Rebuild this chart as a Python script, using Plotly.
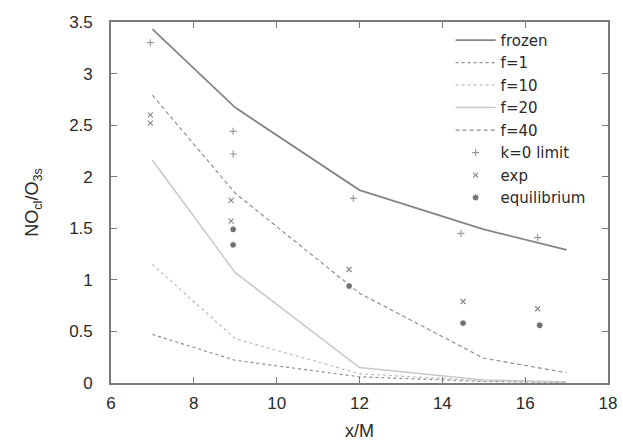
import plotly.graph_objects as go

# model curves
x_model = [7, 9, 12, 15, 17]
frozen = [3.43, 2.67, 1.87, 1.49, 1.29]
f1 = [0.47, 0.22, 0.06, 0.015, 0.005]
f10 = [1.15, 0.43, 0.09, 0.02, 0.01]
f20 = [2.16, 1.07, 0.15, 0.03, 0.01]
f40 = [2.79, 1.84, 0.87, 0.24, 0.10]

# points
x_k0 = [6.95, 8.95, 8.95, 11.85, 14.45, 16.3]
k0 = [3.30, 2.44, 2.22, 1.79, 1.45, 1.41]
x_exp = [6.95, 6.95, 8.9, 8.9, 11.75, 14.5, 16.3]
exp_v = [2.60, 2.52, 1.77, 1.57, 1.10, 0.79, 0.72]
x_eq = [8.95, 8.95, 11.75, 14.5, 16.35]
eq_v = [1.49, 1.34, 0.94, 0.58, 0.56]

x_ticks = [6, 8, 10, 12, 14, 16, 18]
y_ticks = [0, 0.5, 1, 1.5, 2, 2.5, 3, 3.5]
y_tick_text = ["0", "0.5", "1", "1.5", "2", "2.5", "3", "3.5"]

fig = go.Figure()
fig.add_trace(go.Scatter(x=x_model, y=frozen, mode="lines", name="frozen",
                         line=dict(color="#858585", width=1.8)))
fig.add_trace(go.Scatter(x=x_model, y=f1, mode="lines", name="f=1",
                         line=dict(color="#8f8f8f", width=1.2, dash="dot")))
fig.add_trace(go.Scatter(x=x_model, y=f10, mode="lines", name="f=10",
                         line=dict(color="#bdbdbd", width=1.2, dash="dot")))
fig.add_trace(go.Scatter(x=x_model, y=f20, mode="lines", name="f=20",
                         line=dict(color="#c8c8c8", width=1.5)))
fig.add_trace(go.Scatter(x=x_model, y=f40, mode="lines", name="f=40",
                         line=dict(color="#8f8f8f", width=1.2, dash="4px,3px")))
fig.add_trace(go.Scatter(x=x_k0, y=k0, mode="markers", name="k=0 limit",
                         marker=dict(symbol="cross-thin", size=5, color="#999999",
                                     line=dict(color="#999999", width=1.2))))
fig.add_trace(go.Scatter(x=x_exp, y=exp_v, mode="markers", name="exp",
                         marker=dict(symbol="x-thin", size=5, color="#8a8a8a",
                                     line=dict(color="#8a8a8a", width=1.2))))
fig.add_trace(go.Scatter(x=x_eq, y=eq_v, mode="markers", name="equilibrium",
                         marker=dict(symbol="asterisk", size=5, color="#707070",
                                     line=dict(color="#707070", width=1.5))))

axis_common = dict(showgrid=False, zeroline=False, showline=True, mirror="ticks",
                   automargin=False,
                   linecolor="#7a7a7a", linewidth=1.6, ticks="inside", ticklen=6,
                   tickcolor="#7a7a7a",
                   tickfont=dict(size=17, color="#2a2a2a",
                                 family="Liberation Sans, Arial, sans-serif"))

fig.update_layout(
    width=623, height=443,
    margin=dict(l=111, r=15, t=22, b=60, autoexpand=False),
    paper_bgcolor="white", plot_bgcolor="white",
    font=dict(family="Liberation Sans, Arial, sans-serif", color="#2a2a2a"),
    xaxis=dict(range=[6, 18], tickvals=x_ticks, ticklabelstandoff=4,
               title=dict(text="x/M", font=dict(size=18), standoff=12), **axis_common),
    yaxis=dict(range=[0, 3.5], tickvals=y_ticks, ticktext=y_tick_text,
               ticklabelstandoff=13,
               title=dict(text="NO<sub>cl</sub>/O<sub>3s</sub>", font=dict(size=18),
                          standoff=26),
               **axis_common),
    legend=dict(x=0.965, y=0.995, xanchor="right", yanchor="top",
                bgcolor="rgba(255,255,255,0)",
                font=dict(size=15, color="#2a2a2a", family="DejaVu Sans, sans-serif"),
                tracegroupgap=0, itemwidth=40),
    showlegend=True,
)

fig.write_html("out.html",
               config={"displayModeBar": False, "responsive": False},
               post_script="document.body.style.margin='0';document.body.style.overflow='hidden';")
